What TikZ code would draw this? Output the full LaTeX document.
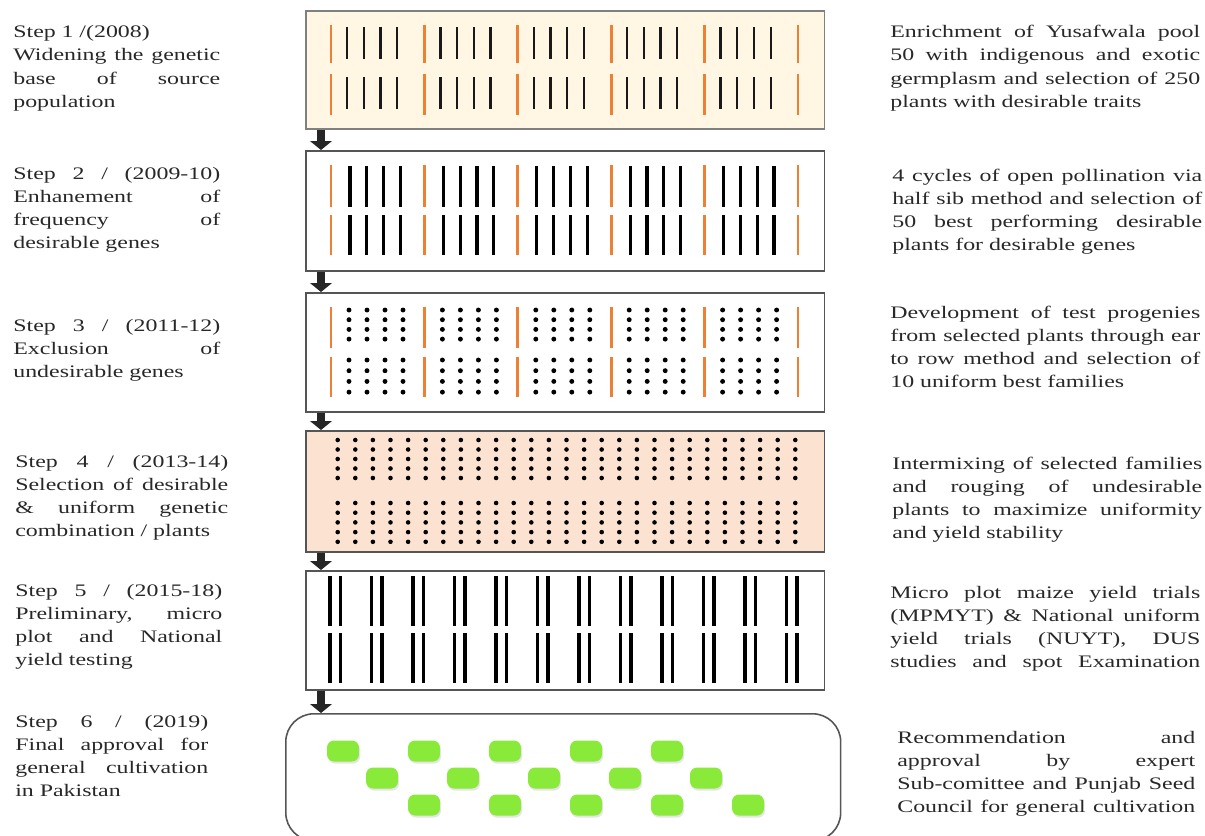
\documentclass[tikz,border=0pt]{standalone}
\usepackage{fontspec}
\setmainfont{Liberation Serif}[FakeStretch=1.36]
\usepackage{tikz}
\usetikzlibrary{arrows.meta,shadows}
\definecolor{pgray}{RGB}{85,85,85}
\definecolor{ptext}{RGB}{40,40,40}
\definecolor{porange}{RGB}{238,128,52}
\definecolor{pcream}{RGB}{255,247,228}
\definecolor{ppeach}{RGB}{252,226,208}
\definecolor{pgreen}{RGB}{138,234,58}
\newcommand{\jline}[1]{{\spaceskip=\fontdimen2\font plus 1fil\relax
  \xspaceskip=\spaceskip\makebox[\hsize][s]{#1}}}
\tikzset{
  plotbox/.style ={rectangle, draw=pgray, line width=0.9pt, anchor=north west,
                   inner sep=0pt, minimum width=10.38cm},
  steptxt/.style ={anchor=north west, inner sep=0pt, align=left, text=ptext,
                   font=\fontsize{10}{13.2}\selectfont, execute at begin node=\strut},
  flow/.style    ={-{Triangle[length=5pt,width=12pt]}, line width=4pt, draw=black!85},
  orow/.style    ={draw=porange, line width=1.7pt},
  brow/.style    ={draw=black!90, line width=1.3pt},
  bthick/.style  ={draw=black, line width=1.8pt},
  seed/.style    ={fill=black},
  blob/.style    ={rectangle, rounded corners=4pt, fill=pgreen, minimum width=0.64cm,
                   minimum height=0.42cm, inner sep=0pt,
                   drop shadow={shadow xshift=0.6pt, shadow yshift=-1.2pt, opacity=0.2}}
}

\begin{document}
\begin{tikzpicture}[x=0.02cm, y=-0.02cm]
\useasboundingbox (0,0) rectangle (1205,836);
\node[plotbox, draw=black!50, fill=pcream, minimum height=2.36cm] (b1) at (305,10) {};
\node[plotbox, fill=white, minimum height=2.40cm] (b2) at (305,150) {};
\node[plotbox, fill=white, minimum height=2.38cm] (b3) at (305,292) {};
\node[plotbox, fill=ppeach, minimum height=2.42cm] (b4) at (305,430) {};
\node[plotbox, fill=white, minimum height=2.38cm] (b5) at (305,570) {};
\node[plotbox, fill=white, rounded corners=16pt, minimum width=11.1cm,
      minimum height=2.54cm] (b6) at (285,713) {};
\coordinate (ax) at (321,0);
\foreach \a/\b in {b1/b2,b2/b3,b3/b4,b4/b5,b5/b6}
  \draw[flow] (\a.south -| ax) -- (\b.north -| ax);

% steps 1 to 3
\foreach \g in {0,...,5} {
  \draw[orow] ({331+93.4*\g},25) -- ++(0,38);
  \draw[orow] ({331+93.4*\g},74) -- ++(0,41);
  \draw[orow] ({331+93.4*\g},165) -- ++(0,42);
  \draw[orow] ({331+93.4*\g},215) -- ++(0,40);
  \draw[orow] ({331+93.4*\g},307) -- ++(0,41);
  \draw[orow] ({331+93.4*\g},357) -- ++(0,40);
}
\foreach \g in {0,...,4} \foreach \j in {0,...,3} {
  \draw[brow] ({347+93.4*\g+16.7*\j},27) -- ++(0,32);
  \draw[brow] ({347+93.4*\g+16.7*\j},77) -- ++(0,32);
  \draw[bthick] ({350+93.4*\g+16.8*\j},166) -- ++(0,41);
  \draw[bthick] ({350+93.4*\g+16.8*\j},215) -- ++(0,40);
  \foreach \i in {0,...,3} {
    \fill[seed] ({349+93.4*\g+18*\j},{310+9.7*\i}) circle (1.4pt);
    \fill[seed] ({349+93.4*\g+18*\j},{360+10.7*\i}) circle (1.4pt);
  }
}
% step 4
\foreach \c in {0,...,26} \foreach \r in {0,...,4} {
  \fill[seed] ({337.7+17.6*\c},{440+9.5*\r}) circle (1.3pt);
  \fill[seed] ({337.7+17.6*\c},{503+9.7*\r}) circle (1.3pt);
}
% step 5
\foreach \p in {0,...,11} \foreach \d in {0,10.5} {
  \draw[bthick] ({330+41.5*\p+\d},576) -- ++(0,50);
  \draw[bthick] ({330+41.5*\p+\d},633) -- ++(0,50);
}
% step 6
\foreach \r/\s in {0/343,1/382,2/424} \foreach \i in {0,...,4}
  \node[blob] (g\r\i) at ({\s+81*\i},{751+27*\r}) {};

\node[steptxt, text width=4.14cm] (s1) at (13,21.2) {Step 1 /(2008)\\
  \jline{Widening the genetic}\\ \jline{base of source}\\ population};
\node[steptxt, text width=4.14cm] (s2) at (13,162.7) {\jline{Step 2 / (2009-10)}\\
  \jline{Enhanement of}\\ \jline{frequency of}\\ desirable genes};
\node[steptxt, text width=4.14cm] (s3) at (13,314.7) {\jline{Step 3 / (2011-12)}\\
  \jline{Exclusion of}\\ undesirable genes};
\node[steptxt, text width=4.26cm] (s4) at (15,450.7) {\jline{Step 4 / (2013-14)}\\
  \jline{Selection of desirable}\\ \jline{\& uniform genetic}\\ combination / plants};
\node[steptxt, text width=4.14cm] (s5) at (15,579.7) {\jline{Step 5 / (2015-18)}\\
  \jline{Preliminary, micro}\\ \jline{plot and National}\\ yield testing};
\node[steptxt, text width=3.86cm] (s6) at (15,710.7) {\jline{Step 6 / (2019)}\\
  \jline{Final approval for}\\ \jline{general cultivation}\\ in Pakistan};

\node[steptxt, text width=6.2cm] (n1) at (890,21.2) {\jline{Enrichment of Yusafwala pool}\\
  \jline{50 with indigenous and exotic}\\ \jline{germplasm and selection of 250}\\
  plants with desirable traits};
\node[steptxt, text width=6.2cm] (n2) at (892,164.7) {\jline{4 cycles of open pollination via}\\
  \jline{half sib method and selection of}\\ \jline{50 best performing desirable}\\
  plants for desirable genes};
\node[steptxt, text width=6.2cm] (n3) at (890,301.7) {\jline{Development of test progenies}\\
  \jline{from selected plants through ear}\\ \jline{to row method and selection of}\\
  10 uniform best families};
\node[steptxt, text width=6.2cm] (n4) at (892,452.7) {\jline{Intermixing of selected families}\\
  \jline{and rouging of undesirable}\\ \jline{plants to maximize uniformity}\\
  and yield stability};
\node[steptxt, text width=6.2cm] (n5) at (890,581.7) {\jline{Micro plot maize yield trials}\\
  \jline{(MPMYT) \& National uniform}\\ \jline{yield trials (NUYT), DUS}\\
  \jline{studies and spot Examination}};
\node[steptxt, text width=5.96cm] (n6) at (897,726.7) {\jline{Recommendation and}\\
  \jline{approval by expert}\\ \jline{Sub-comittee and Punjab Seed}\\
  \jline{Council for general cultivation}};
\end{tikzpicture}
\end{document}
